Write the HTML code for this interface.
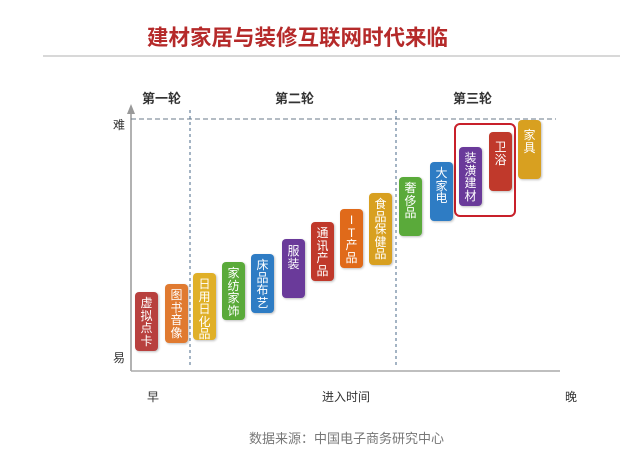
<!DOCTYPE html><html><head><meta charset="utf-8"><style>
body{margin:0;width:640px;height:454px;background:#fff;position:relative;overflow:hidden;font-family:"Liberation Sans","Noto Sans CJK SC",sans-serif}
.a{position:absolute;white-space:nowrap}
.b{position:absolute;width:23px;border-radius:4px;color:#fff;font-size:12px;line-height:12.5px;text-align:center;padding-top:5px;box-sizing:border-box;box-shadow:1px 1px 2px rgba(0,0,0,.25)}
</style></head><body>
<div class="a" style="left:147px;top:21px;font-size:21.5px;font-weight:bold;color:#b52a2a">建材家居与装修互联网时代来临</div>
<div class="a" style="left:43px;top:55px;width:577px;height:2px;background:#d8d8d8"></div>
<svg class="a" style="left:0;top:0" width="640" height="454">
<line x1="131" y1="110" x2="131" y2="371" stroke="#999" stroke-width="1.5"/>
<polygon points="127,114 131,104 135,114" fill="#999"/>
<line x1="131" y1="371" x2="560" y2="371" stroke="#aaa" stroke-width="1.5"/>
<line x1="131" y1="119" x2="556" y2="119" stroke="#6a7a8a" stroke-dasharray="5,3"/>
<line x1="190" y1="110" x2="190" y2="368" stroke="#4a6a8a" stroke-dasharray="3,3"/>
<line x1="396" y1="110" x2="396" y2="368" stroke="#4a6a8a" stroke-dasharray="3,3"/>
<rect x="455" y="124" width="60" height="92" rx="5" fill="none" stroke="#c8202a" stroke-width="2"/>
</svg>
<div class="a" style="left:142px;top:88px;font-size:13px;font-weight:bold;color:#333">第一轮</div>
<div class="a" style="left:275px;top:88px;font-size:13px;font-weight:bold;color:#333">第二轮</div>
<div class="a" style="left:453px;top:88px;font-size:13px;font-weight:bold;color:#333">第三轮</div>
<div class="a" style="left:113px;top:116px;font-size:12px;color:#333">难</div>
<div class="a" style="left:113px;top:349px;font-size:12px;color:#333">易</div>
<div class="a" style="left:147px;top:388px;font-size:12px;color:#333">早</div>
<div class="a" style="left:322px;top:388px;font-size:12px;color:#333">进入时间</div>
<div class="a" style="left:565px;top:388px;font-size:12px;color:#333">晚</div>
<div class="a" style="left:249px;top:428px;font-size:13px;color:#777">数据来源：中国电子商务研究中心</div>
<div class="b" style="left:135px;top:292px;height:59px;background:#b8403e">虚<br>拟<br>点<br>卡</div>
<div class="b" style="left:165px;top:284px;height:59px;background:#e07a30">图<br>书<br>音<br>像</div>
<div class="b" style="left:193px;top:273px;height:67px;background:#e0b028">日<br>用<br>日<br>化<br>品</div>
<div class="b" style="left:222px;top:262px;height:58px;background:#5aaa3a">家<br>纺<br>家<br>饰</div>
<div class="b" style="left:251px;top:254px;height:59px;background:#2e7cc4">床<br>品<br>布<br>艺</div>
<div class="b" style="left:282px;top:239px;height:59px;background:#6a3a9a;padding-top:6px">服<br>装</div>
<div class="b" style="left:311px;top:222px;height:59px;background:#c0392b">通<br>讯<br>产<br>品</div>
<div class="b" style="left:340px;top:209px;height:59px;background:#e06a1a">I<br>T<br>产<br>品</div>
<div class="b" style="left:369px;top:193px;height:72px;background:#d8a020">食<br>品<br>保<br>健<br>品</div>
<div class="b" style="left:399px;top:177px;height:59px;background:#5aaa3a">奢<br>侈<br>品</div>
<div class="b" style="left:430px;top:162px;height:59px;background:#2e7cc4">大<br>家<br>电</div>
<div class="b" style="left:459px;top:147px;height:59px;background:#6a3a9a">装<br>潢<br>建<br>材</div>
<div class="b" style="left:489px;top:132px;height:59px;background:#c0392b;padding-top:9px">卫<br>浴</div>
<div class="b" style="left:518px;top:120px;height:59px;background:#d8a020;padding-top:9px">家<br>具</div>
</body></html>
